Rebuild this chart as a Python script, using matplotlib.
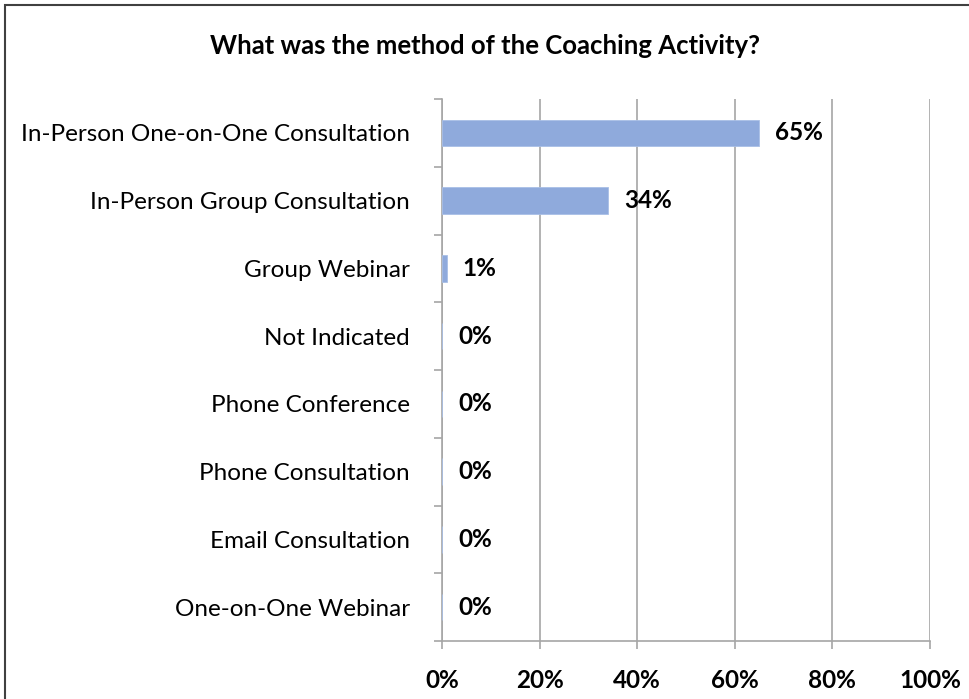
import matplotlib.pyplot as plt
from matplotlib.patches import Rectangle
import numpy as np

categories = [
    "In-Person One-on-One Consultation",
    "In-Person Group Consultation",
    "Group Webinar",
    "Not Indicated",
    "Phone Conference",
    "Phone Consultation",
    "Email Consultation",
    "One-on-One Webinar",
]
percents = [65, 34, 1, 0, 0, 0, 0, 0]
x_ticks = [0, 20, 40, 60, 80, 100]
title = "What was the method of the Coaching Activity?"

plt.rcParams["font.family"] = ["Lato", "DejaVu Sans"]

fig = plt.figure(figsize=(9.7, 6.99), dpi=100)
ax = fig.add_axes([442 / 970, 58 / 699, 488 / 970, 542 / 699])

n = len(categories)
ypos = np.arange(n)
ax.barh(ypos, percents, height=0.39, color="#8faadc", edgecolor="#a9bfe6", linewidth=0.6, zorder=3)
ax.set_xlim(0, 100)
ax.set_ylim(n - 0.5, -0.5)

for y, v in zip(ypos, percents):
    ax.annotate(f"{v}%", (v, y), xytext=(16, 0), textcoords="offset pixels",
                va="center", ha="left", fontsize=17.5, fontweight="bold", color="black")

ax.set_xticks(x_ticks)
ax.set_xticklabels([f"{t}%" for t in x_ticks], fontsize=17.5, fontweight="bold")
ax.xaxis.grid(True, color="#a6a6a6", linewidth=1.2, zorder=0)

# category labels sit between the boundary tick marks
ax.set_yticks(np.arange(-0.5, n, 1.0))
ax.set_yticklabels([])
ax.set_yticks(ypos, minor=True)
ax.set_yticklabels(categories, minor=True, fontsize=17.5)
ax.tick_params(axis="y", which="minor", length=0, pad=23)
ax.tick_params(axis="y", which="major", length=6, color="#a6a6a6", width=1.2)
ax.tick_params(axis="x", length=6, color="#a6a6a6", width=1.2, pad=14)

for side in ["top", "right"]:
    ax.spines[side].set_visible(False)
for side in ["left", "bottom"]:
    ax.spines[side].set_color("#a6a6a6")
    ax.spines[side].set_linewidth(1.2)

fig.text(0.5, 1 - 46 / 699, title, ha="center", va="center", fontsize=18.5, fontweight="bold")

# outer frame: only top and left edges fall inside the picture
fig.patches.append(Rectangle((5 / 970, -0.02), 1.0, 1.0 - 5 / 699 + 0.02,
                             transform=fig.transFigure, fill=False,
                             edgecolor="#404040", linewidth=1.5))

fig.savefig("out.png", dpi=100)
